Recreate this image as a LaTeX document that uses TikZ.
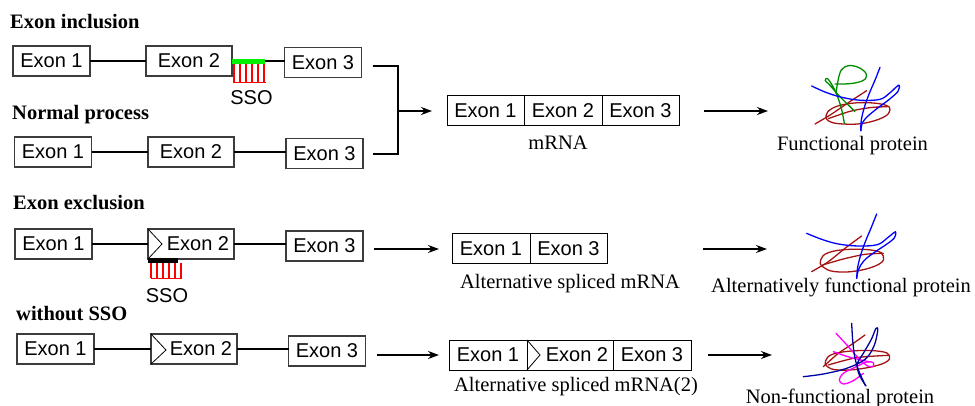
\documentclass[tikz,border=0pt]{standalone}
\usepackage{fontspec}
\setmainfont{Liberation Serif}
\newfontfamily\arialfont{Liberation Sans}
\usetikzlibrary{arrows.meta,calc}

\definecolor{boxgray}{RGB}{60,60,60}
\definecolor{protred}{RGB}{165,20,20}
\definecolor{protgreen}{RGB}{0,140,0}
\definecolor{protblue}{RGB}{0,0,255}
\definecolor{protnavy}{RGB}{0,0,160}
\definecolor{protmag}{RGB}{255,0,255}
\definecolor{ssogreen}{RGB}{0,240,0}

\tikzset{
  exon/.style={draw=boxgray, line width=1.4pt, minimum width=77pt, minimum height=30pt,
    inner sep=0pt, outer sep=0pt, font=\arialfont\fontsize{20}{24}\selectfont},
  wide/.style={minimum width=86pt},
  seg/.style={draw=black, line width=1pt, minimum height=30pt, inner sep=0pt, outer sep=0pt,
    anchor=west, font=\arialfont\fontsize{20}{24}\selectfont},
  ttl/.style={font=\bfseries\fontsize{20.5}{24}\selectfont, anchor=base west, inner sep=0pt},
  lbl/.style={font=\fontsize{20.5}{24}\selectfont, anchor=base, inner sep=0pt},
  ssolbl/.style={font=\arialfont\fontsize{20}{24}\selectfont, anchor=base, inner sep=0pt},
  link/.style={line width=2pt},
  arr/.style={line width=2pt, -{Stealth[length=11pt,width=8pt]}},
  chev/.style={line width=0.8pt},
  comb/.style={red, line width=1.5pt},
  scrib/.style={line width=1.3pt, line cap=round, line join=round},
}

\begin{document}
\begin{tikzpicture}[x=1pt, y=-1pt]
\useasboundingbox (0,0) rectangle (975,406);

% ---------- titles ----------
\node[ttl] (t1) at (10,29) {Exon inclusion};
\node[ttl] (t2) at (12,120) {Normal process};
\node[ttl] (t3) at (13,210) {Exon exclusion};
\node[ttl] (t4) at (16,320) {without SSO};

% ---------- pre-mRNA rows ----------
\node[exon]      (e1a) at (51.5,61)   {Exon 1};
\node[exon,wide] (e2a) at (189,61)    {Exon 2};
\node[exon]      (e3a) at (323,62.5)  {Exon 3};

\node[exon]      (e1b) at (53,152)    {Exon 1};
\node[exon,wide] (e2b) at (191,152)   {Exon 2};
\node[exon]      (e3b) at (324.5,153.5) {Exon 3};

\node[exon]      (e1c) at (53.5,244)  {Exon 1};
\node[exon,wide] (e2c) at (191,244)   {\hspace{14pt}Exon 2};
\node[exon]      (e3c) at (324.5,246) {Exon 3};

\node[exon]      (e1d) at (55.5,349)  {Exon 1};
\node[exon,wide] (e2d) at (194,349)   {\hspace{14pt}Exon 2};
\node[exon]      (e3d) at (327,351)   {Exon 3};

% introns
\foreach \r in {a,b,c,d}{
  \draw[link] (e1\r.east) -- (e1\r.east -| e2\r.west);
  \draw[link] (e2\r.east) -- (e2\r.east -| e3\r.west);
}

% chevrons marking the exon 2 splice site
\draw[chev] (e2c.north west) -- ($(e2c.west)+(14,0)$) -- (e2c.south west);
\draw[chev] (e2d.north west) -- ($(e2d.west)+(15,1)$) -- (e2d.south west);

% SSO bound after exon 2 (inclusion)
\draw[ssogreen, line width=4.7pt] ($(e2a.east)+(0,0.7)$) -- ++(33,0);
\draw[comb] (233,82.3) -- (266,82.3);
\foreach \k in {0,...,5}{ \draw[comb] (234+6*\k,64.3) -- (234+6*\k,82.3); }
\node[ssolbl] (sso1) at (251.5,104.5) {SSO};

% SSO bound on exon 2 (exclusion)
\draw[black, line width=4.4pt] ($(e2c.south west)+(0,1.5)$) -- ++(30,0);
\draw[comb] (150.5,278.3) -- (182,278.3);
\foreach \k in {0,...,5}{ \draw[comb] (151+6*\k,262.7) -- (151+6*\k,278.3); }
\node[ssolbl] (sso2) at (167,302.5) {SSO};

% bracket joining the two upper rows
\coordinate (ba) at ($(e3a.east)+(11,4)$);
\coordinate (bb) at ($(e3b.east)+(10,0.5)$);
\coordinate (j)  at (398,111);

% ---------- spliced mRNAs ----------
\node[seg, minimum width=77pt] (m1) at (447,111) {Exon 1};
\node[seg, minimum width=78pt] (m2) at (m1.east) {Exon 2};
\node[seg, minimum width=77pt] (m3) at (m2.east) {Exon 3};
\node[lbl] (ml) at (558,150) {mRNA};

\node[seg, minimum width=78pt] (a1) at (452,249) {Exon 1};
\node[seg, minimum width=77pt] (a2) at (a1.east) {Exon 3};
\node[lbl] (al) at (570,289) {Alternative spliced mRNA};

\node[seg, minimum width=78pt] (b1) at (449,355) {Exon 1};
\node[seg, minimum width=86pt] (b2) at (b1.east) {\hspace{14pt}Exon 2};
\node[seg, minimum width=78pt] (b3) at (b2.east) {Exon 3};
\draw[chev] (b2.north west) -- ($(b2.west)+(13,0)$) -- (b2.south west);
\node[lbl] (bl) at (576,391) {Alternative spliced mRNA(2)};

% ---------- connectors ----------
\draw[link] (ba) -| (j) |- (bb);
\draw[arr] (j) -- ($(m1.west)+(-15,0)$);
\draw[arr] ($(e3c.east |- a1.west)+(11,0)$) -- ($(a1.west)+(-13,0)$);
\draw[arr] ($(e3d.east |- b1.west)+(11,0)$) -- ($(b1.west)+(-10,0)$);

\coordinate (p1) at (768,111);
\coordinate (p2) at (767,249);
\coordinate (p3) at (772,355);
\draw[arr] ($(m3.east)+(25,0)$) -- (p1);
\draw[arr] ($(a2.east)+(96,0)$) -- (p2);
\draw[arr] ($(b3.east)+(17,0)$) -- (p3);

% ---------- proteins ----------
\node[lbl] (pl1) at (852.5,151) {Functional protein};
\node[lbl] (pl2) at (841,292) {Alternatively functional protein};
\node[lbl] (pl3) at (840,403) {Non-functional protein};

% functional protein
\begin{scope}[shift={(800,60)}, x=0.3333pt, y=-0.3333pt, scrib]
  \draw[protred] plot[smooth cycle, tension=0.7] coordinates {(78,168) (95,146) (140,132) (200,128) (255,135) (270,150) (250,172) (190,190) (130,192) (90,185)};
  \draw[protred] plot[smooth] coordinates {(45,192) (92,164) (145,128) (200,92)};
  \draw[protred] plot[smooth] coordinates {(85,176) (150,154) (210,143) (262,140)};
  \draw[protgreen] plot[smooth, tension=0.6] coordinates {(133,190) (124,145) (108,98) (90,65) (80,55) (76,62) (88,74) (118,108) (148,138) (165,155)};
  \draw[protgreen] plot[smooth, tension=0.6] coordinates {(108,100) (114,62) (124,30) (145,17) (175,22) (198,40) (195,58) (170,68) (135,72) (105,72)};
  \draw[protblue] plot[smooth, tension=0.6] coordinates {(35,78) (80,98) (130,113) (185,121) (240,118) (268,100) (290,80) (298,76) (294,94) (268,118) (228,148) (196,176) (185,195) (183,212)};
  \draw[protblue] plot[smooth] coordinates {(240,22) (226,58) (208,100) (193,142) (184,180) (182,212)};
\end{scope}

% alternatively functional protein
\begin{scope}[shift={(800,210)}, x=0.3333pt, y=-0.3333pt, scrib]
  \draw[protred] plot[smooth cycle, tension=0.7] coordinates {(62,150) (85,128) (150,118) (225,122) (250,138) (238,162) (175,182) (105,185) (68,170)};
  \draw[protred] plot[smooth] coordinates {(35,185) (85,155) (135,115) (185,78)};
  \draw[protred] plot[smooth] coordinates {(68,165) (130,147) (195,133) (250,130)};
  \draw[protblue] plot[smooth, tension=0.6] coordinates {(20,70) (65,88) (115,102) (175,108) (232,104) (262,84) (283,67) (287,68) (283,84) (258,104) (222,128) (192,152) (176,178) (170,205)};
  \draw[protblue] plot[smooth] coordinates {(230,12) (214,52) (196,95) (182,135) (173,172) (170,205)};
\end{scope}

% non-functional protein
\begin{scope}[shift={(800,320)}, x=0.3333pt, y=-0.3333pt, scrib]
  \draw[protred] plot[smooth cycle, tension=0.7] coordinates {(77,122) (100,102) (170,92) (240,94) (268,106) (255,128) (185,146) (115,150) (82,140)};
  \draw[protred] plot[smooth] coordinates {(70,140) (115,100) (160,70) (195,45)};
  \draw[protred] plot[smooth] coordinates {(85,135) (170,113) (265,106)};
  \draw[protmag] plot[smooth, tension=0.6] coordinates {(108,40) (138,72) (168,106) (198,135) (218,140) (220,128) (200,126) (165,142) (130,160) (118,180) (130,192) (160,182) (190,160)};
  \draw[protmag] plot[smooth] coordinates {(100,95) (150,112) (210,126)};
  \draw[protnavy] plot[smooth, tension=0.6] coordinates {(10,170) (70,162) (140,145) (195,118) (222,78) (233,32) (228,25) (214,58) (190,100) (172,132) (178,165) (198,198)};
  \draw[protnavy] plot[smooth] coordinates {(155,10) (158,60) (164,110) (176,152) (196,196)};
\end{scope}

\end{tikzpicture}
\end{document}
